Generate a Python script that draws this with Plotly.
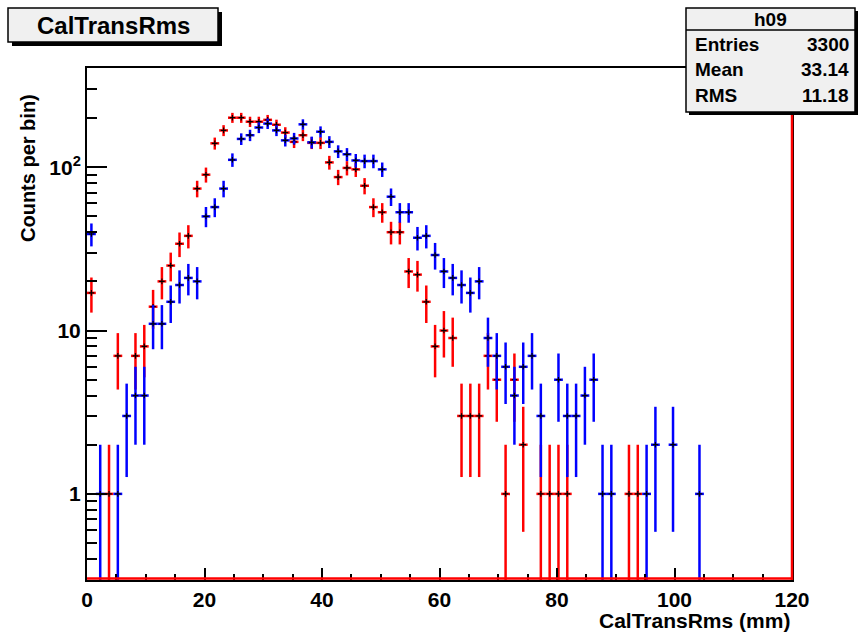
import numpy as np
import plotly.graph_objects as go

# Histogram definition: 80 bins from 0 to 120 (mm)
bin_lo, bin_hi, n_bins = 0.0, 120.0, 80

# Counts per bin (bins 0..79)
red_counts = [17, 0, 1, 7, 0, 7, 8, 14, 20, 25,
              34, 38, 74, 90, 140, 168, 201, 201, 190, 190,
              195, 182, 163, 143, 157, 141, 141, 107, 87, 99,
              97, 77, 57, 53, 40, 40, 23, 22, 15, 8,
              10, 9, 3, 3, 3, 7, 5, 1, 5, 2,
              0, 1, 1, 1, 1, 0, 0, 0, 0, 0,
              0, 1, 1, 0, 0, 0, 0, 0, 0, 0,
              0, 0, 0, 0, 0, 0, 0, 0, 0, 0]
blue_counts = [39, 1, 0, 1, 3, 4, 4, 11, 11, 15,
               19, 21, 20, 50, 57, 74, 111, 149, 157, 175,
               185, 168, 146, 150, 183, 142, 165, 143, 125, 120,
               110, 109, 109, 97, 66, 53, 53, 37, 38, 29,
               23, 21, 19, 17, 20, 9, 7, 6, 4, 6,
               7, 3, 0, 5, 3, 3, 4, 5, 1, 1,
               0, 0, 0, 1, 2, 0, 2, 0, 0, 1,
               0, 0, 0, 0, 0, 0, 0, 0, 0, 0]

x_tick_vals = [0, 20, 40, 60, 80, 100, 120]
y_tick_vals = [1, 10, 100]
y_tick_text = ["1", "10", "10<sup>2</sup>"]

stats_name = "h09"
stats_rows = [("Entries", "3300"), ("Mean", "33.14"), ("RMS", "11.18")]

FONT = "Liberation Sans, Arial, Helvetica, sans-serif"

edges = np.linspace(bin_lo, bin_hi, n_bins + 1)
centers = 0.5 * (edges[:-1] + edges[1:])
half_w = 0.5 * (edges[1] - edges[0])


def hist_trace(counts, color):
    c = np.array(counts, dtype=float)
    m = c > 0
    x = centers[m]
    y = c[m]
    err = np.sqrt(y)
    errm = np.minimum(err, y - 0.01)
    return go.Scatter(
        x=x, y=y, mode="markers",
        marker=dict(symbol="cross-thin", size=4, color="black",
                    line=dict(width=1.2, color="black")),
        error_y=dict(type="data", symmetric=False, array=err, arrayminus=errm,
                     color=color, thickness=2.5, width=0),
        error_x=dict(type="constant", value=half_w, color=color,
                     thickness=2.5, width=0),
        showlegend=False, hoverinfo="skip",
    )


fig = go.Figure()
fig.add_trace(hist_trace(red_counts, "#ff0000"))
fig.add_trace(hist_trace(blue_counts, "#0000ff"))

L, R, T, B = 87, 792, 68, 580
W, H = 861, 634


def px(x):
    return (x - L) / (R - L)


def py(y):
    return (B - y) / (B - T)


minor_x = [v for v in range(5, 120, 5) if v % 20 != 0]
minor_y = [0.3, 0.4, 0.5, 0.6, 0.7, 0.8, 0.9,
           2, 3, 4, 5, 6, 7, 8, 9,
           20, 30, 40, 50, 60, 70, 80, 90,
           200, 300, 400]

fig.update_layout(
    width=W, height=H,
    margin=dict(l=L, r=W - R, t=T, b=H - B, pad=0),
    paper_bgcolor="white", plot_bgcolor="white",
    font=dict(family=FONT, color="black"),
    xaxis=dict(
        range=[bin_lo, bin_hi], showgrid=False, zeroline=False,
        showline=True, linecolor="black", linewidth=2, mirror=True,
        ticks="inside", ticklen=12, tickwidth=1.5, tickcolor="black",
        tickvals=x_tick_vals, ticktext=[str(v) for v in x_tick_vals],
        tickfont=dict(family=FONT, size=21, color="black", weight="bold"),
        minor=dict(tickvals=minor_x, ticks="inside", ticklen=6,
                   tickwidth=1.5, tickcolor="black", showgrid=False),
    ),
    yaxis=dict(
        type="log", range=[np.log10(0.297), np.log10(405)],
        showgrid=False, zeroline=False,
        showline=True, linecolor="black", linewidth=2, mirror=True,
        ticks="inside", ticklen=20, tickwidth=1.5, tickcolor="black",
        tickvals=y_tick_vals, ticktext=y_tick_text,
        tickfont=dict(family=FONT, size=21, color="black", weight="bold"),
        minor=dict(tickvals=minor_y, ticks="inside", ticklen=10,
                   tickwidth=1.5, tickcolor="black", showgrid=False),
    ),
)

shapes = []
# red histogram outline along bottom and right edges
shapes.append(dict(type="line", xref="paper", yref="paper", x0=0, x1=1, y0=0.003, y1=0.003,
                   line=dict(color="#ff0000", width=2.5), layer="above"))
shapes.append(dict(type="line", xref="paper", yref="paper", x0=1, x1=1, y0=0, y1=1,
                   line=dict(color="#ff0000", width=2.5), layer="above"))


def box(x0, y0, x1, y1, fill, lw=1.5, sh=4):
    shapes.append(dict(type="rect", xref="paper", yref="paper",
                       x0=px(x0 + sh), x1=px(x1 + sh), y0=py(y1 + sh), y1=py(y0 + sh),
                       fillcolor="black", line=dict(width=0), layer="above"))
    shapes.append(dict(type="rect", xref="paper", yref="paper",
                       x0=px(x0), x1=px(x1), y0=py(y1), y1=py(y0),
                       fillcolor=fill, line=dict(color="black", width=lw), layer="above"))


box(8, 8, 218, 42, "#f0f0f0")
box(686, 8, 855, 112, "#f0f0f0", sh=3)
shapes.append(dict(type="line", xref="paper", yref="paper", x0=px(686), x1=px(855),
                   y0=py(30), y1=py(30), line=dict(color="black", width=1.5), layer="above"))
fig.update_layout(shapes=shapes)

ann = []
ann.append(dict(text="CalTransRms", x=px(113), y=py(25), xref="paper", yref="paper",
                showarrow=False, xanchor="center", yanchor="middle",
                font=dict(family=FONT, size=24, color="black", weight="bold")))
ann.append(dict(text=stats_name, x=px(770), y=py(19), xref="paper", yref="paper",
                showarrow=False, xanchor="center", yanchor="middle",
                font=dict(family=FONT, size=19, color="black", weight="bold")))
for i, (k, v) in enumerate(stats_rows):
    yy = 44 + 25.5 * i
    ann.append(dict(text=k, x=px(693), y=py(yy), xref="paper", yref="paper",
                    showarrow=False, xanchor="left", yanchor="middle",
                    font=dict(family=FONT, size=19, color="black", weight="bold")))
    ann.append(dict(text=v, x=px(851), y=py(yy), xref="paper", yref="paper",
                    showarrow=False, xanchor="right", yanchor="middle",
                    font=dict(family=FONT, size=19, color="black", weight="bold")))
ann.append(dict(text="CalTransRms (mm)", x=px(792), y=py(620), xref="paper", yref="paper",
                showarrow=False, xanchor="right", yanchor="middle",
                font=dict(family=FONT, size=21, color="black", weight="bold")))
ann.append(dict(text="Counts per bin)", x=px(28), y=py(92), xref="paper", yref="paper",
                showarrow=False, xanchor="center", yanchor="top", textangle=-90,
                font=dict(family=FONT, size=20, color="black", weight="bold")))
fig.update_layout(annotations=ann)

fig.write_html("out.html")
